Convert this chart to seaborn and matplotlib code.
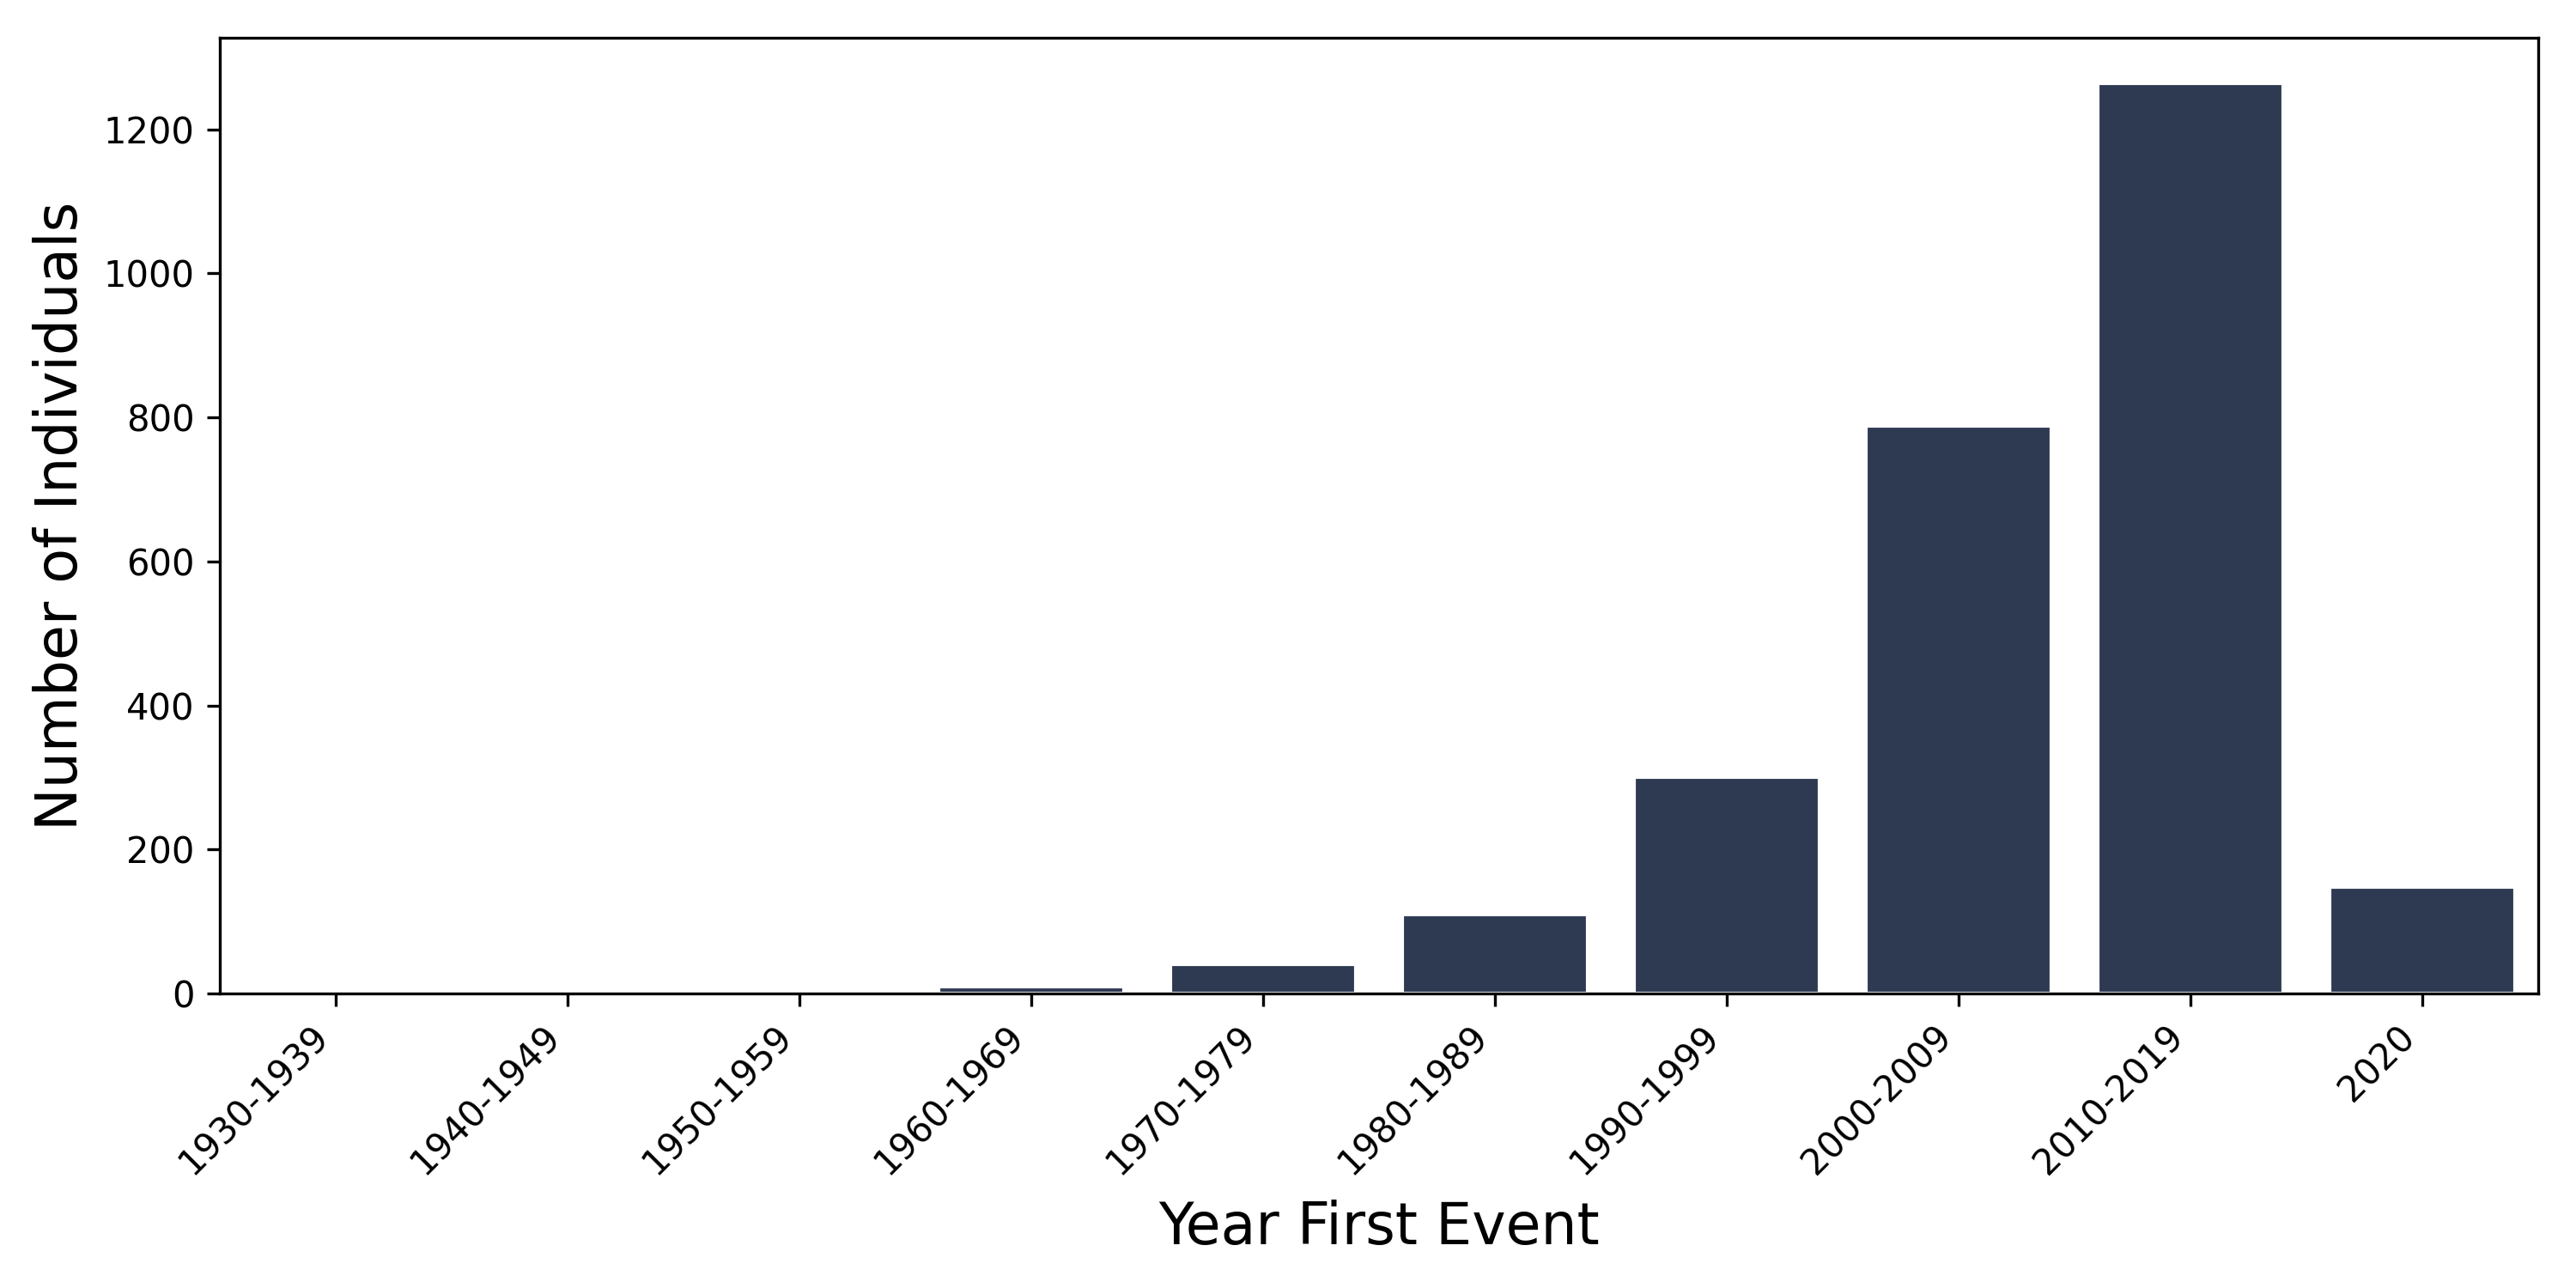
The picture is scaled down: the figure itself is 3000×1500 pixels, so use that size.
import matplotlib
matplotlib.use("Agg")
import matplotlib.pyplot as plt
import seaborn as sns
import pandas as pd

categories = ["1930-1939", "1940-1949", "1950-1959", "1960-1969", "1970-1979",
              "1980-1989", "1990-1999", "2000-2009", "2010-2019", "2020"]
counts = [0, 0, 1, 10, 41, 110, 300, 788, 1264, 148]

df = pd.DataFrame({"decade": categories, "count": counts})

sns.set_style("ticks")
plt.rcParams['font.family'] = ['DejaVu Sans']
plt.rcParams['text.color'] = 'black'
plt.rcParams['axes.labelcolor'] = 'black'

fig, ax = plt.subplots(figsize=(10, 5), dpi=300)
fig.subplots_adjust(left=0.0853, right=0.9853, top=0.9707, bottom=0.2287)

sns.barplot(data=df, x="decade", y="count", color="#2e3a52", saturation=1,
            order=categories, ax=ax, width=0.8)

for s in ["top", "right", "left", "bottom"]:
    ax.spines[s].set_visible(True)
    ax.spines[s].set_color("black")
    ax.spines[s].set_linewidth(0.8)

ax.set_xlabel("Year First Event", fontsize=16, color="black", labelpad=5)
ax.set_ylabel("Number of Individuals", fontsize=16, color="black")
ax.tick_params(axis="both", labelsize=10, length=3.5, width=0.8,
               colors="black", labelcolor="black")
plt.setp(ax.get_xticklabels(), rotation=45, ha="right", rotation_mode="default")

fig.savefig("out.png", dpi=300)
